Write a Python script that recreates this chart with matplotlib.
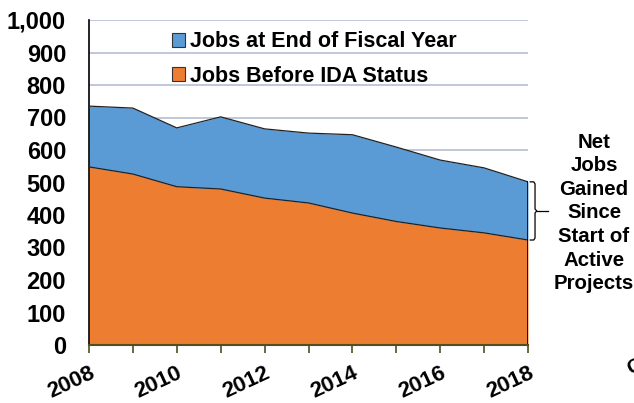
import numpy as np
import matplotlib.pyplot as plt
from matplotlib.ticker import FuncFormatter, MultipleLocator

years = [2008, 2009, 2010, 2011, 2012, 2013, 2014, 2015, 2016, 2017, 2018]
jobs_end_fy = [735, 729, 668, 702, 665, 652, 647, 609, 569, 545, 502]
jobs_before_ida = [548, 526, 487, 480, 452, 437, 406, 380, 360, 345, 323]

legend_labels = ['Jobs at End of Fiscal Year', 'Jobs Before IDA Status']
side_note = 'Net\nJobs\nGained\nSince\nStart of\nActive\nProjects'

blue = '#5B9BD5'
orange = '#ED7D31'

plt.rcParams['font.family'] = ['Liberation Sans', 'DejaVu Sans']
plt.rcParams['font.weight'] = 'bold'

fig = plt.figure(figsize=(6.34, 4.03), dpi=100)
ax = fig.add_axes([89 / 634, 1 - 345 / 403, (528 - 89) / 634, (345 - 20) / 403])

x = np.array(years)
before = np.array(jobs_before_ida)
end = np.array(jobs_end_fy)

ax.fill_between(x, 0, before, color=orange, lw=0, zorder=2)
ax.fill_between(x, before, end, color=blue, lw=0, zorder=2)
ax.plot(x, before, color='#222222', lw=0.9, zorder=3)
ax.plot(x, end, color='#222222', lw=0.9, zorder=3)
ax.plot([x[-1], x[-1]], [0, end[-1]], color='black', lw=1.2, zorder=3)

ax.set_xlim(years[0], years[-1])
ax.set_ylim(0, 1000)
ax.yaxis.set_major_locator(MultipleLocator(100))
ax.yaxis.set_major_formatter(FuncFormatter(lambda v, p: f'{int(v):,}'))
ax.grid(axis='y', color='#B4BED2', lw=1.2, zorder=1)
ax.set_axisbelow(True)

ax.xaxis.set_major_locator(MultipleLocator(2))
ax.xaxis.set_minor_locator(MultipleLocator(1))
ax.tick_params(axis='x', which='both', length=6, width=1.2, color='#4F4F1F',
               direction='out', pad=7)
ax.tick_params(axis='y', length=0, pad=16.5, labelsize=17)
for lbl in ax.get_xticklabels():
    lbl.set_rotation(25)
    lbl.set_ha('right')
    lbl.set_rotation_mode('anchor')
    lbl.set_fontsize(16)
    lbl.set_fontweight('bold')
for lbl in ax.get_yticklabels():
    lbl.set_fontweight('bold')

for s in ['top', 'right']:
    ax.spines[s].set_visible(False)
ax.spines['left'].set_color('black')
ax.spines['left'].set_linewidth(1.2)
ax.spines['bottom'].set_color('#4F4F1F')
ax.spines['bottom'].set_linewidth(1.5)
ax.spines['bottom'].set_zorder(4)

h_blue = plt.Rectangle((0, 0), 1, 1, facecolor=blue, edgecolor='#333333', lw=0.8)
h_orange = plt.Rectangle((0, 0), 1, 1, facecolor=orange, edgecolor='#333333', lw=0.8)
ax.legend([h_blue, h_orange], legend_labels, loc='upper left',
          bbox_to_anchor=(0.19, 0.965), frameon=False,
          prop={'size': 15.5, 'weight': 'bold'}, handlelength=0.6,
          handleheight=0.6, handletextpad=0.2, labelspacing=0.62,
          borderpad=0, borderaxespad=0)

# brace spanning the net jobs gained in the last year
yb, yt = before[-1], end[-1]
ym = (yb + yt) / 2
bx = x[-1] + 0.16
ax.plot([x[-1] + 0.05, bx - 0.03, bx, bx, bx + 0.04, bx, bx, bx - 0.03, x[-1] + 0.05],
        [yt, yt, yt - 6, ym + 6, ym, ym - 6, yb + 6, yb, yb],
        color='black', lw=0.9, clip_on=False, zorder=5)
ax.plot([bx + 0.04, bx + 0.3], [ym, ym], color='black', lw=0.9, clip_on=False)

fig.text(594 / 634, 1 - 213 / 403, side_note, ha='center', va='center',
         fontsize=14.7, fontweight='bold', linespacing=1.31)
fig.text(624 / 634, 1 - 367 / 403, 'C', ha='left', va='center',
         fontsize=15, fontweight='bold', rotation=25)

fig.savefig('out.png', dpi=100)
